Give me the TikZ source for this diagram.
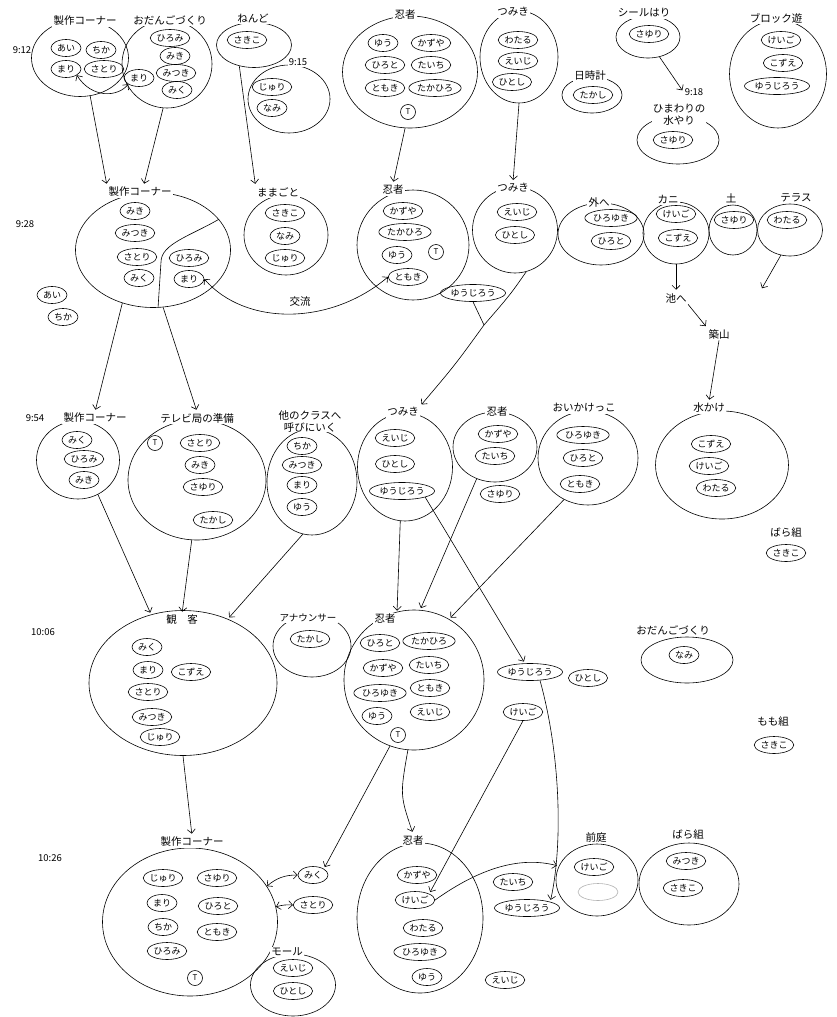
\documentclass[tikz,border=0pt]{standalone}
\usepackage{fontspec}
\setmainfont{Noto Sans CJK JP}
\usepackage{tikz}
\usetikzlibrary{
	arrows.meta,
	positioning,
	calc,
	shapes.geometric
}
\tikzset{
	kid/.style={draw, ellipse, inner sep=0.5pt, minimum height=17, minimum width=30, font=\fontsize{9}{10}\selectfont},
	tee/.style={draw, circle, inner sep=0pt, minimum size=15, font=\fontsize{8}{9}\selectfont},
	grp/.style={draw, ellipse},
	ttl/.style={fill=white, inner sep=1.2pt, font=\fontsize{10.5}{12}\selectfont},
	tim/.style={inner sep=1pt, font=\fontsize{9.5}{10}\selectfont},
	flow/.style={-{Straight Barb[length=4pt,width=8pt]}, shorten >=2pt},
	twoway/.style={{Straight Barb[length=4pt,width=8pt]}-{Straight Barb[length=4pt,width=8pt]}}
}
\begin{document}
\begin{tikzpicture}[x=1pt, y=-1pt, line width=0.6pt]
		\useasboundingbox (0,0) rectangle (836,1017);
		
		% 9:12
		\node[tim] (t1) at (22,50) {9:12};
		\node[grp, minimum width=97, minimum height=77] (sk1) at (80,58) {};
		\node[ttl] (sk1t) at (85,21) {製作コーナー};
		\node[kid] (sk1a) at (66,48) {あい};
		\node[kid] (sk1b) at (101,50) {ちか};
		\node[kid] (sk1c) at (66,69) {まり};
		\node[kid] (sk1d) at (104,69) {さとり};
		
		\node[grp, minimum width=90, minimum height=88] (od1) at (167,64) {};
		\node[ttl] (od1t) at (170,20) {おだんごづくり};
		\node[kid] (od1a) at (170,38) {ひろみ};
		\node[kid] (od1b) at (175,56) {みき};
		\node[kid] (od1c) at (176,73) {みつき};
		\node[kid] (od1d) at (177,90) {みく};
		\node[kid] (od1e) at (139,78) {まり};
		\draw[twoway] (sk1c.south east) .. controls (92,99) and (118,97) .. (od1e.south west);
		
		\node[grp, minimum width=75, minimum height=45] (nd1) at (254,45) {};
		\node[ttl] (nd1t) at (253,18) {ねんど};
		\node[kid] (nd1a) at (247,40) {さきこ};
		\node[grp, minimum width=82, minimum height=68] (nd2) at (289,99) {};
		\node[tim, fill=white] (nd2t) at (298,62) {9:15};
		\node[kid] (nd2a) at (272,87) {じゅり};
		\node[kid] (nd2b) at (272,108) {なみ};
		
		\node[grp, minimum width=135, minimum height=112] (nj1) at (410,72) {};
		\node[ttl] (nj1t) at (405,15) {忍者};
		\node[kid] (nj1a) at (383,43) {ゆう};
		\node[kid] (nj1b) at (431,43) {かずや};
		\node[kid] (nj1c) at (385,65) {ひろと};
		\node[kid] (nj1d) at (431,65) {たいち};
		\node[kid] (nj1e) at (385,88) {ともき};
		\node[kid] (nj1f) at (435,88) {たかひろ};
		\node[tee] (nj1g) at (408,112) {T};
		
		\node[grp, minimum width=78, minimum height=92] (tm1) at (519,57) {};
		\node[ttl] (tm1t) at (513,12) {つみき};
		\node[kid] (tm1a) at (518,40) {わたる};
		\node[kid] (tm1b) at (518,61) {えいじ};
		\node[kid] (tm1c) at (512,82) {ひとし};
		
		\node[grp, minimum width=60, minimum height=36] (nk) at (592,95) {};
		\node[ttl] (nkt) at (590,76) {日時計};
		\node[kid] (nka) at (593,95) {たかし};
		
		\node[grp, minimum width=64, minimum height=42] (sl) at (648,37) {};
		\node[ttl] (slt) at (644,13) {シールはり};
		\node[kid] (sla) at (649,34) {さゆり};
		\node[grp, minimum width=82, minimum height=48] (hm) at (678,140) {};
		\node[tim] (hmtm) at (694,92) {9:18};
		\node[ttl, align=center, inner sep=0.5pt] (hmt) at (679,115) {ひまわりの\\水やり};
		\node[kid] (hma) at (673,140) {さゆり};
		\draw[flow] (sl.-60) -- (hmtm.west);
		
		\node[grp, minimum width=97, minimum height=108] (bl) at (778,74) {};
		\node[ttl] (blt) at (776,18) {ブロック遊};
		\node[kid] (bla) at (781,40) {けいご};
		\node[kid] (blb) at (783,63) {こずえ};
		\node[kid] (blc) at (777,86) {ゆうじろう};
		
		% 9:28
		\node[tim] (t2) at (25,224) {9:28};
		\node[grp, minimum width=155, minimum height=115] (sk2) at (153,250) {};
		\node[ttl] (sk2t) at (140,192) {製作コーナー};
		\node[kid] (sk2a) at (135,211) {みき};
		\node[kid] (sk2b) at (135,233) {みつき};
		\node[kid] (sk2c) at (137,257) {さとり};
		\node[kid] (sk2d) at (139,278) {みく};
		\node[kid] (sk2e) at (189,258) {ひろみ};
		\node[kid] (sk2f) at (189,279) {まり};
		\draw (sk2.25) .. controls (190,236) and (161,244) .. (161,262) -- (sk2.-85);
		\node[kid] (ai) at (52,295) {あい};
		\node[kid] (chika) at (63,317) {ちか};
		\draw[flow] (sk1.-75) -- (sk2t.north west);
		\draw[flow] (od1.-95) -- (sk2t.60);
		
		\node[grp, minimum width=84, minimum height=80] (mm) at (286,235) {};
		\node[ttl] (mmt) at (278,192) {ままごと};
		\node[kid] (mma) at (285,213) {さきこ};
		\node[kid] (mmb) at (285,236) {なみ};
		\node[kid] (mmc) at (285,258) {じゅり};
		\draw[flow] (nd1.235) -- (mmt.north west);
		
		\node[grp, minimum width=112, minimum height=110] (nj2) at (413,245) {};
		\node[ttl] (nj2t) at (393,190) {忍者};
		\node[kid] (nj2a) at (403,211) {かずや};
		\node[kid] (nj2b) at (405,232) {たかひろ};
		\node[kid] (nj2c) at (397,255) {ゆう};
		\node[tee] (nj2d) at (436,252) {T};
		\node[kid] (nj2e) at (408,277) {ともき};
		\draw[flow] (nj1.-95) -- (nj2t.north);
		\draw[twoway] (sk2f.east) .. controls (245,326) and (330,326) .. (nj2e.west);
		\node[ttl] (kr) at (300,302) {交流};
		
		\node[grp, minimum width=85, minimum height=86] (tm2) at (515,230) {};
		\node[ttl] (tm2t) at (513,188) {つみき};
		\node[kid] (tm2a) at (517,212) {えいじ};
		\node[kid] (tm2b) at (515,235) {ひとし};
		\node[kid] (yj2) at (473,293) {ゆうじろう};
		\draw[flow] (tm1.-90) -- (tm2t.north);
		
		\node[grp, minimum width=86, minimum height=62] (sto) at (601,234) {};
		\node[ttl] (stot) at (599,202) {外へ};
		\node[kid] (stoa) at (611,218) {ひろゆき};
		\node[kid] (stob) at (611,241) {ひろと};
		\node[grp, minimum width=66, minimum height=62] (kn) at (676,233) {};
		\node[ttl] (knt) at (668,200) {カニ};
		\node[kid] (kna) at (676,214) {けいご};
		\node[kid] (knb) at (678,238) {こずえ};
		\node[grp, minimum width=48, minimum height=50] (tsu) at (733,230) {};
		\node[ttl] (tsut) at (731,198) {土};
		\node[kid] (tsua) at (734,220) {さゆり};
		\node[grp, minimum width=65, minimum height=52] (tr) at (790,230) {};
		\node[ttl] (trt) at (796,198) {テラス};
		\node[kid] (tra) at (787,220) {わたる};
		\coordinate (trend) at (761,290);
		\draw[flow] (tr.-110) -- (trend);
		
		\node[ttl] (ike) at (676,298) {池へ};
		\node[ttl] (tsk) at (719,334) {築山};
		\draw[flow] (kn.-90) -- (ike.north);
		\draw[flow] (ike.south east) -- (tsk.north west);
		
		% 9:54
		\node[tim] (t3) at (35,418) {9:54};
		\node[grp, minimum width=83, minimum height=78] (sk3) at (78,460) {};
		\node[ttl] (sk3t) at (95,418) {製作コーナー};
		\node[kid] (sk3a) at (77,440) {みく};
		\node[kid] (sk3b) at (84,459) {ひろみ};
		\node[kid] (sk3c) at (84,480) {みき};
		\draw[flow] (sk2.-120) -- (sk3t.north);
		
		\node[grp, minimum width=138, minimum height=120] (tv) at (197,480) {};
		\node[ttl] (tvt) at (197,418) {テレビ局の準備};
		\node[tee] (tva) at (155,443) {T};
		\node[kid] (tvb) at (200,443) {さとり};
		\node[kid] (tvc) at (200,465) {みき};
		\node[kid] (tvd) at (203,487) {さゆり};
		\node[kid] (tve) at (213,520) {たかし};
		\draw[flow] (sk2.-80) -- (tvt.north);
		
		\node[grp, minimum width=90, minimum height=106] (ot) at (312,482) {};
		\node[ttl, align=center, inner sep=0.5pt] (ott) at (310,421) {他のクラスへ\\呼びにいく};
		\node[kid] (ota) at (302,446) {ちか};
		\node[kid] (otb) at (302,465) {みつき};
		\node[kid] (otc) at (302,485) {まり};
		\node[kid] (otd) at (302,507) {ゆう};
		
		\node[grp, minimum width=95, minimum height=108] (tm3) at (405,467) {};
		\node[ttl] (tm3t) at (403,412) {つみき};
		\node[kid] (tm3a) at (395,438) {えいじ};
		\node[kid] (tm3b) at (395,464) {ひとし};
		\node[kid] (tm3c) at (402,491) {ゆうじろう};
		\coordinate (mg) at (484,325);
		\draw[flow] (tm2.-75) .. controls (510,295) .. (mg) .. controls (455,365) .. (tm3t.north east);
		\draw (yj2.south) -- (mg);
		
		\node[grp, minimum width=84, minimum height=70] (nj3) at (495,447) {};
		\node[ttl] (nj3t) at (497,412) {忍者};
		\node[kid] (nj3a) at (498,434) {かずや};
		\node[kid] (nj3b) at (495,456) {たいち};
		\node[kid] (nj3c) at (500,494) {さゆり};
		
		\node[grp, minimum width=100, minimum height=94] (oi) at (588,458) {};
		\node[ttl] (oit) at (584,408) {おいかけっこ};
		\node[kid] (oia) at (583,435) {ひろゆき};
		\node[kid] (oib) at (583,458) {ひろと};
		\node[kid] (oic) at (580,484) {ともき};
		
		\node[grp, minimum width=133, minimum height=108] (mk) at (722,465) {};
		\node[ttl] (mkt) at (709,408) {水かけ};
		\node[kid] (mka) at (711,444) {こずえ};
		\node[kid] (mkb) at (709,466) {けいご};
		\node[kid] (mkc) at (716,488) {わたる};
		\draw[flow] (tsk.south) -- (mkt.north);
		
		\node[ttl] (bg1) at (786,533) {ばら組};
		\node[kid] (bg1a) at (786,553) {さきこ};
		
		% 10:06
		\node[tim] (t4) at (43,632) {10:06};
		\node[grp, minimum width=188, minimum height=145] (kk) at (183,683) {};
		\node[ttl] (kkt) at (182,620) {観　客};
		\node[kid] (kka) at (147,647) {みく};
		\node[kid] (kkb) at (148,670) {まり};
		\node[kid] (kkc) at (191,672) {こずえ};
		\node[kid] (kkd) at (148,692) {さとり};
		\node[kid] (kke) at (152,717) {みつき};
		\node[kid] (kkf) at (160,737) {じゅり};
		\draw[flow] (sk3.-60) -- (kk.115);
		\draw[flow] (tv.-95) -- (kkt.north);
		\draw[flow] (ot.-100) -- (kk.55);
		
		\node[grp, minimum width=78, minimum height=62] (an) at (312,646) {};
		\node[ttl, font=\fontsize{9.5}{11}\selectfont] (ant) at (308,618) {アナウンサー};
		\node[kid] (ana) at (310,639) {たかし};
		
		\node[grp, minimum width=140, minimum height=140] (nj4) at (414,680) {};
		\node[ttl] (nj4t) at (385,619) {忍者};
		\node[kid] (nj4a) at (380,643) {ひろと};
		\node[kid] (nj4b) at (429,641) {たかひろ};
		\node[kid] (nj4c) at (383,668) {かずや};
		\node[kid] (nj4d) at (429,665) {たいち};
		\node[kid] (nj4e) at (380,693) {ひろゆき};
		\node[kid] (nj4f) at (430,688) {ともき};
		\node[kid] (nj4g) at (377,716) {ゆう};
		\node[kid] (nj4h) at (430,712) {えいじ};
		\node[tee] (nj4i) at (398,735) {T};
		\draw[flow] (tm3.-95) -- (nj4t.north east);
		\draw[flow] (nj3.-120) -- (nj4.85);
		\draw[flow] (oi.-120) -- (nj4.60);
		
		\node[kid] (yj4) at (530,672) {ゆうじろう};
		\node[kid] (ht4) at (588,678) {ひとし};
		\node[kid] (kg4) at (523,712) {けいご};
		\draw[flow] (tm3c.south east) -- (yj4.120);
		
		\node[grp, minimum width=92, minimum height=46] (od4) at (687,660) {};
		\node[ttl] (od4t) at (673,630) {おだんごづくり};
		\node[kid] (od4a) at (684,655) {なみ};
		
		\node[ttl] (bg2) at (773,722) {もも組};
		\node[kid] (bg2a) at (774,745) {さきこ};
		
		% 10:26
		\node[tim] (t5) at (50,858) {10:26};
		\node[grp, minimum width=175, minimum height=148] (sk5) at (190,922) {};
		\node[ttl] (sk5t) at (192,842) {製作コーナー};
		\node[kid] (sk5a) at (163,878) {じゅり};
		\node[kid] (sk5b) at (217,878) {さゆり};
		\node[kid] (sk5c) at (162,903) {まり};
		\node[kid] (sk5d) at (218,906) {ひろと};
		\node[kid] (sk5e) at (163,927) {ちか};
		\node[kid] (sk5f) at (217,932) {ともき};
		\node[kid] (sk5g) at (167,951) {ひろみ};
		\node[tee] (sk5h) at (195,978) {T};
		\draw[flow] (kk.-90) -- (sk5t.north);
		
		\node[kid] (mk5) at (313,875) {みく};
		\node[kid] (st5) at (313,905) {さとり};
		\draw[twoway] (sk5.25) to[bend left=20] (mk5.west);
		\draw[twoway] (sk5.10) to[bend left=10] (st5.west);
		\draw[flow] (nj4.-110) -- (mk5.north east);
		
		\node[grp, minimum width=85, minimum height=62] (ml) at (293,985) {};
		\node[ttl] (mlt) at (287,952) {モール};
		\node[kid] (mla) at (293,968) {えいじ};
		\node[kid] (mlb) at (293,991) {ひとし};
		
		\node[grp, minimum width=126, minimum height=150] (nj5) at (420,918) {};
		\node[ttl] (nj5t) at (413,840) {忍者};
		\node[kid] (nj5a) at (417,875) {かずや};
		\node[kid] (nj5b) at (415,900) {けいご};
		\node[kid] (nj5c) at (423,928) {わたる};
		\node[kid] (nj5d) at (420,952) {ひろゆき};
		\node[kid] (nj5e) at (427,977) {ゆう};
		\draw[flow] (nj4.-95) .. controls (400,795) .. (nj5t.north);
		\draw[flow] (kg4.south) -- (nj5b.north east);
		
		\node[kid] (tc5) at (513,882) {たいち};
		\node[kid] (yj5) at (527,908) {ゆうじろう};
		\node[kid] (ej5) at (505,980) {えいじ};
		\draw[flow] (yj4.-40) .. controls (562,760) and (562,850) .. (yj5.north east);
		
		\node[grp, minimum width=82, minimum height=72] (mz) at (597,880) {};
		\node[ttl] (mzt) at (596,837) {前庭};
		\node[kid] (mza) at (594,867) {けいご};
		\node[kid, draw=black!30, minimum width=40] (mzb) at (598,892) {};
		\draw[flow] (nj5b.east) .. controls (480,868) and (520,856) .. (mz.160);
		
		\node[grp, minimum width=100, minimum height=82] (br) at (689,884) {};
		\node[ttl] (brt) at (688,835) {ばら組};
		\node[kid] (bra) at (686,861) {みつき};
		\node[kid] (brb) at (683,888) {さきこ};
		
	\end{tikzpicture}
\end{document}
